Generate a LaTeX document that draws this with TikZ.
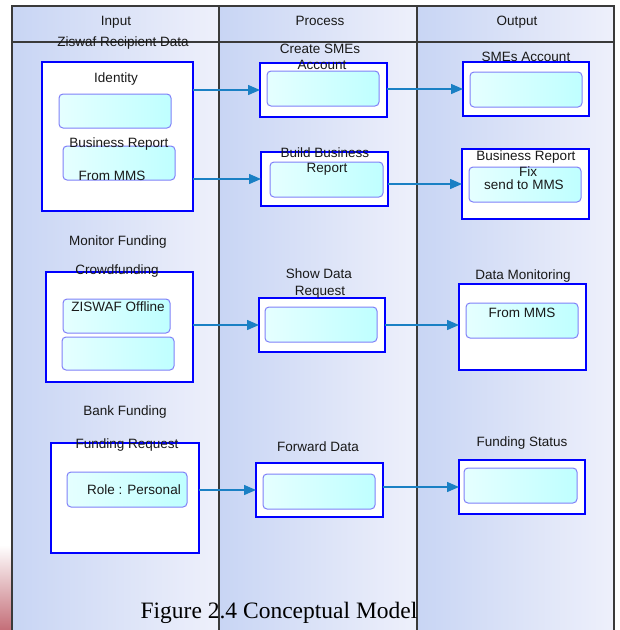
\documentclass[tikz,border=0pt]{standalone}
\usepackage{fontspec}
\setmainfont{Liberation Sans}
\newfontfamily\capfont{Liberation Serif}
\usetikzlibrary{fit,arrows.meta}
\definecolor{laneL}{HTML}{C8D5F4}
\definecolor{laneR}{HTML}{EEF0FB}
\definecolor{laneline}{HTML}{3A3A3A}
\definecolor{arrowc}{HTML}{1A80C4}
\definecolor{innerline}{HTML}{8080F8}
\definecolor{innerfill}{HTML}{BFFFFF}
\definecolor{blob}{HTML}{C46E78}
\tikzset{
  lane/.style={left color=laneL, right color=laneR, draw=none},
  box/.style={draw=blue, line width=1.3pt, fill=white, inner sep=0pt, outer sep=0pt},
  inbox/.style={draw=innerline, line width=1pt, rounded corners=4pt, left color=white!60!innerfill, right color=innerfill, inner sep=0pt, outer sep=0pt},
  lbl/.style={font=\fontsize{13.5}{15}\selectfont, inner sep=0pt, text height=9.6pt, text depth=0pt, text=black!90},
  flow/.style={draw=arrowc, line width=1.4pt, -{Triangle[length=12pt,width=10pt]}},
  laneborder/.style={draw=laneline, line width=1.4pt}
}
\begin{document}
\begin{tikzpicture}[x=1pt,y=-1pt]
\useasboundingbox (0,0) rectangle (620,630);
% scan artefact
\shade[top color=white, bottom color=blob] (0,545) rectangle (12,630);
% lanes
\shade[lane] (12,6) rectangle (219,632);
\shade[lane] (219,6) rectangle (417,632);
\shade[lane] (417,6) rectangle (614,632);
\draw[laneborder] (12,632) -- (12,6) -- (614,6) -- (614,632);
\draw[laneborder] (219,6) -- (219,632);
\draw[laneborder] (417,6) -- (417,632);
\draw[laneborder] (12,42) -- (614,42);
\node[lbl] (hIn) at (116,21) {Input};
\node[lbl] (hPr) at (320,21) {Process};
\node[lbl] (hOut) at (517,21) {Output};

% Input boxes
\node[box, fit={(42,62) (193,211)}] (inA) {};
\node[inbox, fit={(59,94) (171,128)}] (inA1) {};
\node[inbox, fit={(63,146) (175,180)}] (inA2) {};
\node[box, fit={(46,272) (193,382)}] (inB) {};
\node[inbox, fit={(63,299) (170,333)}] (inB1) {};
\node[inbox, fit={(62,337) (174,370)}] (inB2) {};
\node[box, fit={(51,443) (199,553)}] (inC) {};
\node[inbox, fit={(67,472) (187,507)}] (inC1) {};

% Process boxes
\node[box, fit={(260,63) (387,117)}] (prA) {};
\node[inbox, fit={(267,71) (379,106)}] (prA1) {};
\node[box, fit={(261,152) (388,206)}] (prB) {};
\node[inbox, fit={(270,162) (383,197)}] (prB1) {};
\node[box, fit={(259,298) (385,352)}] (prC) {};
\node[inbox, fit={(265,307) (377,342)}] (prC1) {};
\node[box, fit={(256,463) (383,517)}] (prD) {};
\node[inbox, fit={(263,474) (375,509)}] (prD1) {};

% Output boxes
\node[box, fit={(463,62) (589,116)}] (outA) {};
\node[inbox, fit={(470,72) (582,107)}] (outA1) {};
\node[box, fit={(462,149) (589,219)}] (outB) {};
\node[inbox, fit={(469,167) (581,202)}] (outB1) {};
\node[box, fit={(459,284) (586,370)}] (outC) {};
\node[inbox, fit={(466,303) (578,338)}] (outC1) {};
\node[box, fit={(459,460) (585,514)}] (outD) {};
\node[inbox, fit={(464,468) (577,503)}] (outD1) {};

% connectors
\draw[flow] (inA.east |- prA.west) -- (prA.west);
\draw[flow] (inA.east |- prB.west) -- (prB.west);
\draw[flow] (prA.east |- outA.west) -- (outA.west);
\draw[flow] (prB.east |- outB.west) -- (outB.west);
\draw[flow] (inB.east |- prC.west) -- (prC.west);
\draw[flow] (prC.east) -- (prC.east -| outC.west);
\draw[flow] (inC.east |- prD.west) -- (prD.west);
\draw[flow] (prD.east |- outD.west) -- (outD.west);

% labels
\node[lbl] (tZis) at (123,42) {Ziswaf Recipient Data};
\node[lbl] (tId) at (116,78) {Identity};
\node[lbl] (tBR) at (119,143) {Business Report};
\node[lbl] (tFM) at (112,176) {From MMS};
\node[lbl] (tCS) at (320,49) {Create SMEs};
\node[lbl] (tAc) at (322,65) {Account};
\node[lbl] (tBB) at (325,153) {Build Business};
\node[lbl] (tRe) at (327,168) {Report};
\node[lbl] (tSA) at (526,57) {SMEs Account};
\node[lbl] (tBR2) at (526,156) {Business Report};
\node[lbl] (tFix) at (528,172) {Fix};
\node[lbl] (tSend) at (524,185) {send to MMS};
\node[lbl] (tMF) at (118,241) {Monitor Funding};
\node[lbl] (tCr) at (117,270) {Crowdfunding};
\node[lbl] (tZO) at (118,307) {ZISWAF Offline};
\node[lbl] (tSD) at (319,274) {Show Data};
\node[lbl] (tRq) at (320,291) {Request};
\node[lbl] (tDM) at (523,275) {Data Monitoring};
\node[lbl] (tFM2) at (522,313) {From MMS};
\node[lbl] (tBF) at (125,411) {Bank Funding};
\node[lbl] (tFR) at (127,444) {Funding Request};
\node[lbl] (tRP) at (134,490) {Role : Personal};
\node[lbl] (tFD) at (318,447) {Forward Data};
\node[lbl] (tFS) at (522,442) {Funding Status};

% caption
\node[font=\capfont\fontsize{23.5}{26}\selectfont, inner sep=0pt, anchor=base] (cap) at (279,618) {Figure 2.4 Conceptual Model};
\end{tikzpicture}
\end{document}
